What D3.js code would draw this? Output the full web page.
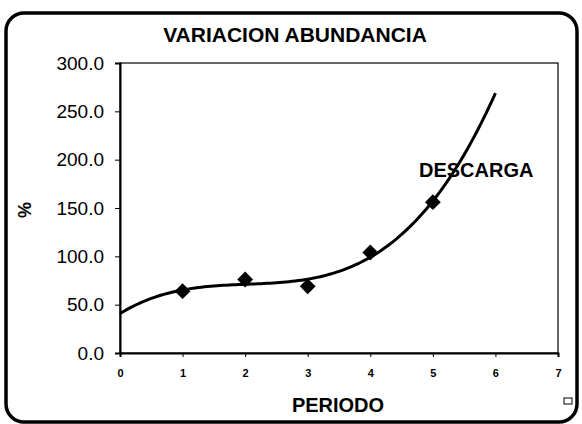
<!DOCTYPE html>
<html>
<head>
<meta charset="utf-8">
<script src="https://cdn.jsdelivr.net/npm/d3@7"></script>
<style>
  body { margin: 0; background: #fff; }
  text { font-family: "Liberation Sans", Arial, sans-serif; fill: #000; }
</style>
</head>
<body>
<div id="chart"></div>
<script>
var svgWidth = 582;
var svgHeight = 424;

// data
var periods = [1, 2, 3, 4, 5];
var abundance = [64, 76, 69, 104, 156];
var yTicks = [0, 50, 100, 150, 200, 250, 300];
var xTicks = [0, 1, 2, 3, 4, 5, 6, 7];

var margin = { top: 63, right: 24, bottom: 71, left: 120 };
var width = svgWidth - margin.left - margin.right;
var height = svgHeight - margin.top - margin.bottom;

var svg = d3.select("#chart")
  .append("svg")
  .attr("width", svgWidth)
  .attr("height", svgHeight);

// outer rounded frame
svg.append("rect")
  .attr("x", 6).attr("y", 13)
  .attr("width", 571).attr("height", 409)
  .attr("rx", 18)
  .attr("fill", "none")
  .attr("stroke", "#000")
  .attr("stroke-width", 3.5);

var chartGroup = svg.append("g")
  .attr("transform", `translate(${margin.left}, ${margin.top})`);

var xScale = d3.scaleLinear().domain([0, 7]).range([0, width]);
var yScale = d3.scaleLinear().domain([0, 300]).range([height, 0]);

// plot area border
chartGroup.append("rect")
  .attr("width", width).attr("height", height)
  .attr("fill", "none")
  .attr("stroke", "#000")
  .attr("stroke-width", 1.2);

var leftAxis = d3.axisLeft(yScale)
  .tickValues(yTicks)
  .tickSize(5)
  .tickPadding(11)
  .tickFormat(d3.format(".1f"));

var bottomAxis = d3.axisBottom(xScale)
  .tickValues(xTicks)
  .tickSize(4)
  .tickPadding(12)
  .tickFormat(d3.format("d"));

var yAxisGroup = chartGroup.append("g").call(leftAxis);
yAxisGroup.select(".domain").attr("stroke-width", 2);
yAxisGroup.selectAll("text")
  .style("font-size", "19px")
  .attr("font-family", null);

var xAxisGroup = chartGroup.append("g")
  .attr("transform", `translate(0, ${height})`)
  .call(bottomAxis);
xAxisGroup.select(".domain").attr("stroke-width", 2);
xAxisGroup.selectAll("text")
  .style("font-size", "11px")
  .style("font-weight", "bold")
  .attr("font-family", null);

// cubic least squares trend line
function polyFit(xs, ys, order) {
  var n = order + 1;
  var A = [];
  for (var i = 0; i < n; i++) {
    A.push([]);
    for (var j = 0; j <= n; j++) A[i].push(0);
  }
  xs.forEach(function(x, k) {
    for (var i = 0; i < n; i++) {
      for (var j = 0; j < n; j++) A[i][j] += Math.pow(x, i + j);
      A[i][n] += ys[k] * Math.pow(x, i);
    }
  });
  for (var c = 0; c < n; c++) {
    var p = c;
    for (var r = c + 1; r < n; r++) if (Math.abs(A[r][c]) > Math.abs(A[p][c])) p = r;
    var tmp = A[c]; A[c] = A[p]; A[p] = tmp;
    for (var r2 = 0; r2 < n; r2++) {
      if (r2 === c) continue;
      var f = A[r2][c] / A[c][c];
      for (var j2 = c; j2 <= n; j2++) A[r2][j2] -= f * A[c][j2];
    }
  }
  return A.map(function(row, i) { return row[n] / row[i]; });
}

var coef = polyFit(periods, abundance, 3);
var trend = d3.range(0, 6.001, 0.05).map(function(x) {
  return [x, coef[0] + coef[1] * x + coef[2] * x * x + coef[3] * x * x * x];
});

chartGroup.append("path")
  .datum(trend)
  .attr("fill", "none")
  .attr("stroke", "#000")
  .attr("stroke-width", 3)
  .attr("d", d3.line().x(d => xScale(d[0])).y(d => yScale(d[1])));

// diamond markers
chartGroup.selectAll(".pt")
  .data(periods)
  .enter()
  .append("path")
  .attr("class", "pt")
  .attr("transform", (d, i) => `translate(${xScale(d)}, ${yScale(abundance[i])})`)
  .attr("d", d3.symbol().type(d3.symbolDiamond2).size(160))
  .attr("fill", "#000");

// texts
svg.append("text")
  .attr("x", 295).attr("y", 42)
  .attr("text-anchor", "middle")
  .style("font-size", "21px")
  .style("font-weight", "bold")
  .text("VARIACION ABUNDANCIA");

svg.append("text")
  .attr("transform", "translate(31, 210) rotate(-90)")
  .attr("text-anchor", "middle")
  .style("font-size", "18px")
  .style("font-weight", "bold")
  .text("%");

svg.append("text")
  .attr("x", 338).attr("y", 412)
  .attr("text-anchor", "middle")
  .style("font-size", "20px")
  .style("font-weight", "bold")
  .text("PERIODO");

svg.append("text")
  .attr("x", 419).attr("y", 177)
  .style("font-size", "20px")
  .style("font-weight", "bold")
  .text("DESCARGA");

// little square at the bottom right
svg.append("rect")
  .attr("x", 564).attr("y", 398)
  .attr("width", 8).attr("height", 6)
  .attr("fill", "none")
  .attr("stroke", "#000")
  .attr("stroke-width", 1);
</script>
</body>
</html>
